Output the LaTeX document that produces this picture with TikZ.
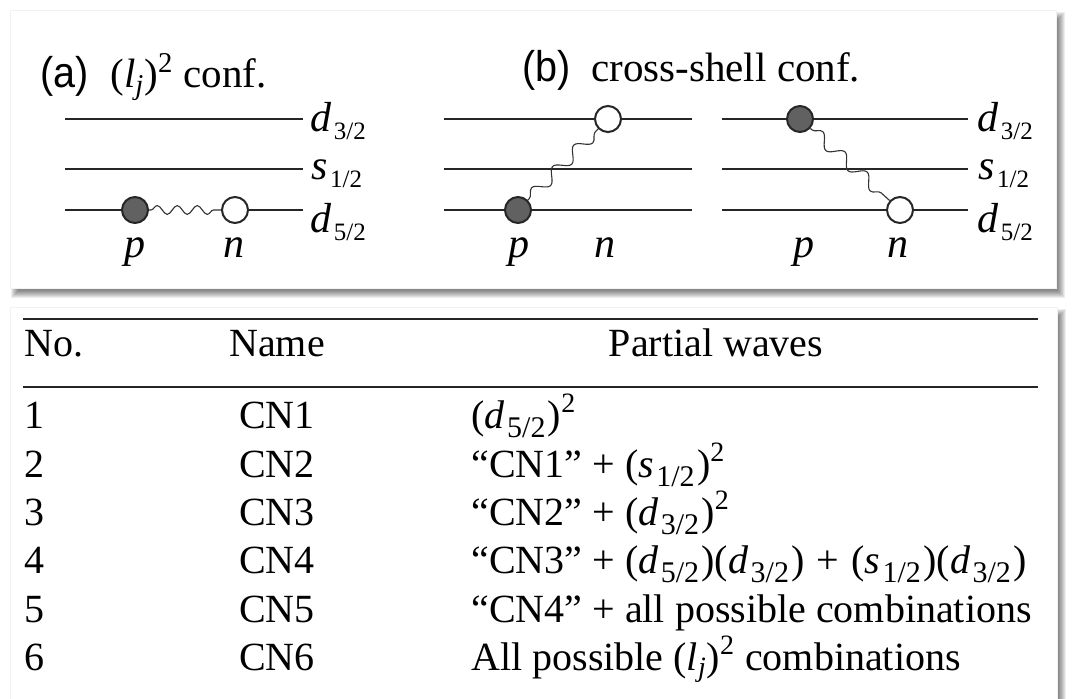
\documentclass[tikz,border=0pt]{standalone}
\usepackage{fontspec}
\setmainfont{Liberation Serif}
\newfontfamily\labsans{Liberation Sans}
\usepackage{graphicx}
\usetikzlibrary{decorations.pathmorphing}

\newcommand\sub[1]{\textsubscript{#1}}
\newcommand\tsub[1]{\kern1.2pt\raisebox{-4.5pt}{\fontsize{15}{16}\selectfont #1}\kern1.2pt}
\newcommand\lvl[2]{\textit{#1}\kern1.2pt\raisebox{-4pt}{\fontsize{12.5}{13}\selectfont #2}}
\newcommand\pw[2]{(\textit{#1}\tsub{#2})}
\newcommand\softshadow[4]{%
  \foreach \e in {-3,...,4}{\fill[black,opacity=0.07] ({#1+5-\e},{#2+6-\e}) rectangle ({#3+5+\e},{#4+6+\e});}}

\begin{document}
\begin{tikzpicture}[x=0.5pt,y=-0.5pt,
  lvline/.style={line width=0.9pt, black!85},
  pcirc/.style={circle, draw=black!85, line width=1pt, fill=black!62, minimum size=13pt, inner sep=0pt},
  ncirc/.style={circle, draw=black!85, line width=1pt, fill=white, minimum size=13pt, inner sep=0pt},
  wave/.style={line width=0.55pt, black!80, decorate, decoration={snake, segment length=10pt, amplitude=2.2pt, pre length=1pt, post length=1pt}},
  dwave/.style={line width=0.55pt, black!80, decorate, decoration={snake, segment length=15pt, amplitude=3pt, pre length=1pt, post length=1pt}},
  lvlabel/.style={anchor=base west, inner sep=0pt, font=\fontsize{21}{24}\selectfont},
  pnlabel/.style={anchor=base, inner sep=0pt, font=\fontsize{21}{24}\selectfont\itshape},
  ttl/.style={anchor=base west, inner sep=0pt, font=\fontsize{20.5}{24}\selectfont},
  ttlsans/.style={anchor=base west, inner sep=0pt, font=\fontsize{21.5}{24}\labsans},
  tabl/.style={anchor=base west, inner sep=0pt, font=\fontsize{20}{24}\selectfont},
  tabc/.style={anchor=base, inner sep=0pt, font=\fontsize{20}{24}\selectfont},
  rule/.style={line width=1.3pt, black!85},
  panel/.style={fill=white, draw=black!5, line width=0.3pt}
]
\useasboundingbox (0,0) rectangle (1079,699);
\fill[white] (0,0) rectangle (1079,699);

% panels with soft shadows
\softshadow{10}{10}{1056}{288}
\path[panel] (10,10) rectangle (1056,288);
\softshadow{10}{307}{1057}{740}
\path[panel] (10,307) rectangle (1057,740);

% ---------- titles ----------
\node[ttlsans] (ta) at (40,88) {\scalebox{0.92}[1]{(a)}};
\node[ttl] (tat) at (110,88) {(\textit{l}\sub{\textit{j}})\textsuperscript{2} conf.};
\node[ttlsans] (tb) at (522,82) {\scalebox{0.92}[1]{(b)}};
\node[ttl] (tbt) at (591,82) {cross-shell conf.};

% ---------- panel (a) ----------
\coordinate (a1s) at (65,119);  \coordinate (a1e) at (303,119);
\coordinate (a2s) at (65,169);  \coordinate (a2e) at (303,169);
\coordinate (a3s) at (65,210);  \coordinate (a3e) at (303,210);
\node[pcirc] (ap) at (135,210) {};
\node[ncirc] (an) at (235,210) {};
\draw[lvline] (a1s) -- (a1e);
\draw[lvline] (a2s) -- (a2e);
\draw[lvline] (a3s) -- (ap);
\draw[lvline] (an) -- (a3e);
\draw[wave] (ap) -- (an);
\node[lvlabel] (al1) at (310,132) {\lvl{d}{3/2}};
\node[lvlabel] (al2) at (311,180) {\lvl{s}{1/2}};
\node[lvlabel] (al3) at (310,233) {\lvl{d}{5/2}};
\node[pnlabel] (apl) at (135,258) {p};
\node[pnlabel] (anl) at (234,258) {n};

% ---------- panel (b), left ----------
\coordinate (b1s) at (444,119);  \coordinate (b1e) at (692,119);
\coordinate (b2s) at (444,169);  \coordinate (b2e) at (692,169);
\coordinate (b3s) at (444,210);  \coordinate (b3e) at (692,210);
\draw[lvline] (b1s) -- (b1e);
\draw[lvline] (b2s) -- (b2e);
\draw[lvline] (b3s) -- (b3e);
\node[ncirc] (bn) at (608,119) {};
\node[pcirc] (bp) at (518,210) {};
\draw[dwave] (bp) -- (bn);
\node[pnlabel] (bpl) at (519,258) {p};
\node[pnlabel] (bnl) at (605,258) {n};

% ---------- panel (b), right ----------
\coordinate (c1s) at (722,119);  \coordinate (c1e) at (968,119);
\coordinate (c2s) at (722,169);  \coordinate (c2e) at (968,169);
\coordinate (c3s) at (722,210);  \coordinate (c3e) at (968,210);
\draw[lvline] (c1s) -- (c1e);
\draw[lvline] (c2s) -- (c2e);
\draw[lvline] (c3s) -- (c3e);
\node[pcirc] (cp) at (800,119) {};
\node[ncirc] (cn) at (900,210) {};
\draw[dwave] (cp) -- (cn);
\node[lvlabel] (cl1) at (977,132) {\lvl{d}{3/2}};
\node[lvlabel] (cl2) at (978,180) {\lvl{s}{1/2}};
\node[lvlabel] (cl3) at (977,233) {\lvl{d}{5/2}};
\node[pnlabel] (cpl) at (804,258) {p};
\node[pnlabel] (cnl) at (898,258) {n};

% ---------- table ----------
\coordinate (r1s) at (23,319);  \coordinate (r1e) at (1038,319);
\coordinate (r2s) at (23,387);  \coordinate (r2e) at (1038,387);
\draw[rule] (r1s) -- (r1e);
\draw[rule] (r2s) -- (r2e);

\node[tabl] (hno) at (24,357) {No.};
\node[tabc] (hname) at (277,357) {Name};
\node[tabc] (hpw) at (716,357) {Partial waves};

\node[tabl] (n1) at (24,428) {1};
\node[tabl] (n2) at (24,477) {2};
\node[tabl] (n3) at (24,525) {3};
\node[tabl] (n4) at (24,573) {4};
\node[tabl] (n5) at (24,622) {5};
\node[tabl] (n6) at (24,670) {6};

\node[tabc] (m1) at (277,428) {CN1};
\node[tabc] (m2) at (277,477) {CN2};
\node[tabc] (m3) at (277,525) {CN3};
\node[tabc] (m4) at (277,573) {CN4};
\node[tabc] (m5) at (277,622) {CN5};
\node[tabc] (m6) at (277,670) {CN6};

\node[tabl] (w1) at (471,428) {\pw{d}{5/2}\textsuperscript{2}};
\node[tabl] (w2) at (471,477) {“CN1” + \pw{s}{1/2}\textsuperscript{2}};
\node[tabl] (w3) at (471,525) {“CN2” + \pw{d}{3/2}\textsuperscript{2}};
\node[tabl] (w4) at (471,573) {“CN3” + \pw{d}{5/2}\pw{d}{3/2}\hspace{1pt} + \hspace{1pt}\pw{s}{1/2}\pw{d}{3/2}};
\node[tabl] (w5) at (471,622) {“CN4” + all possible combinations};
\node[tabl] (w6) at (471,670) {All possible (\textit{l}\sub{\textit{j}})\textsuperscript{2} combinations};
\end{tikzpicture}
\end{document}
